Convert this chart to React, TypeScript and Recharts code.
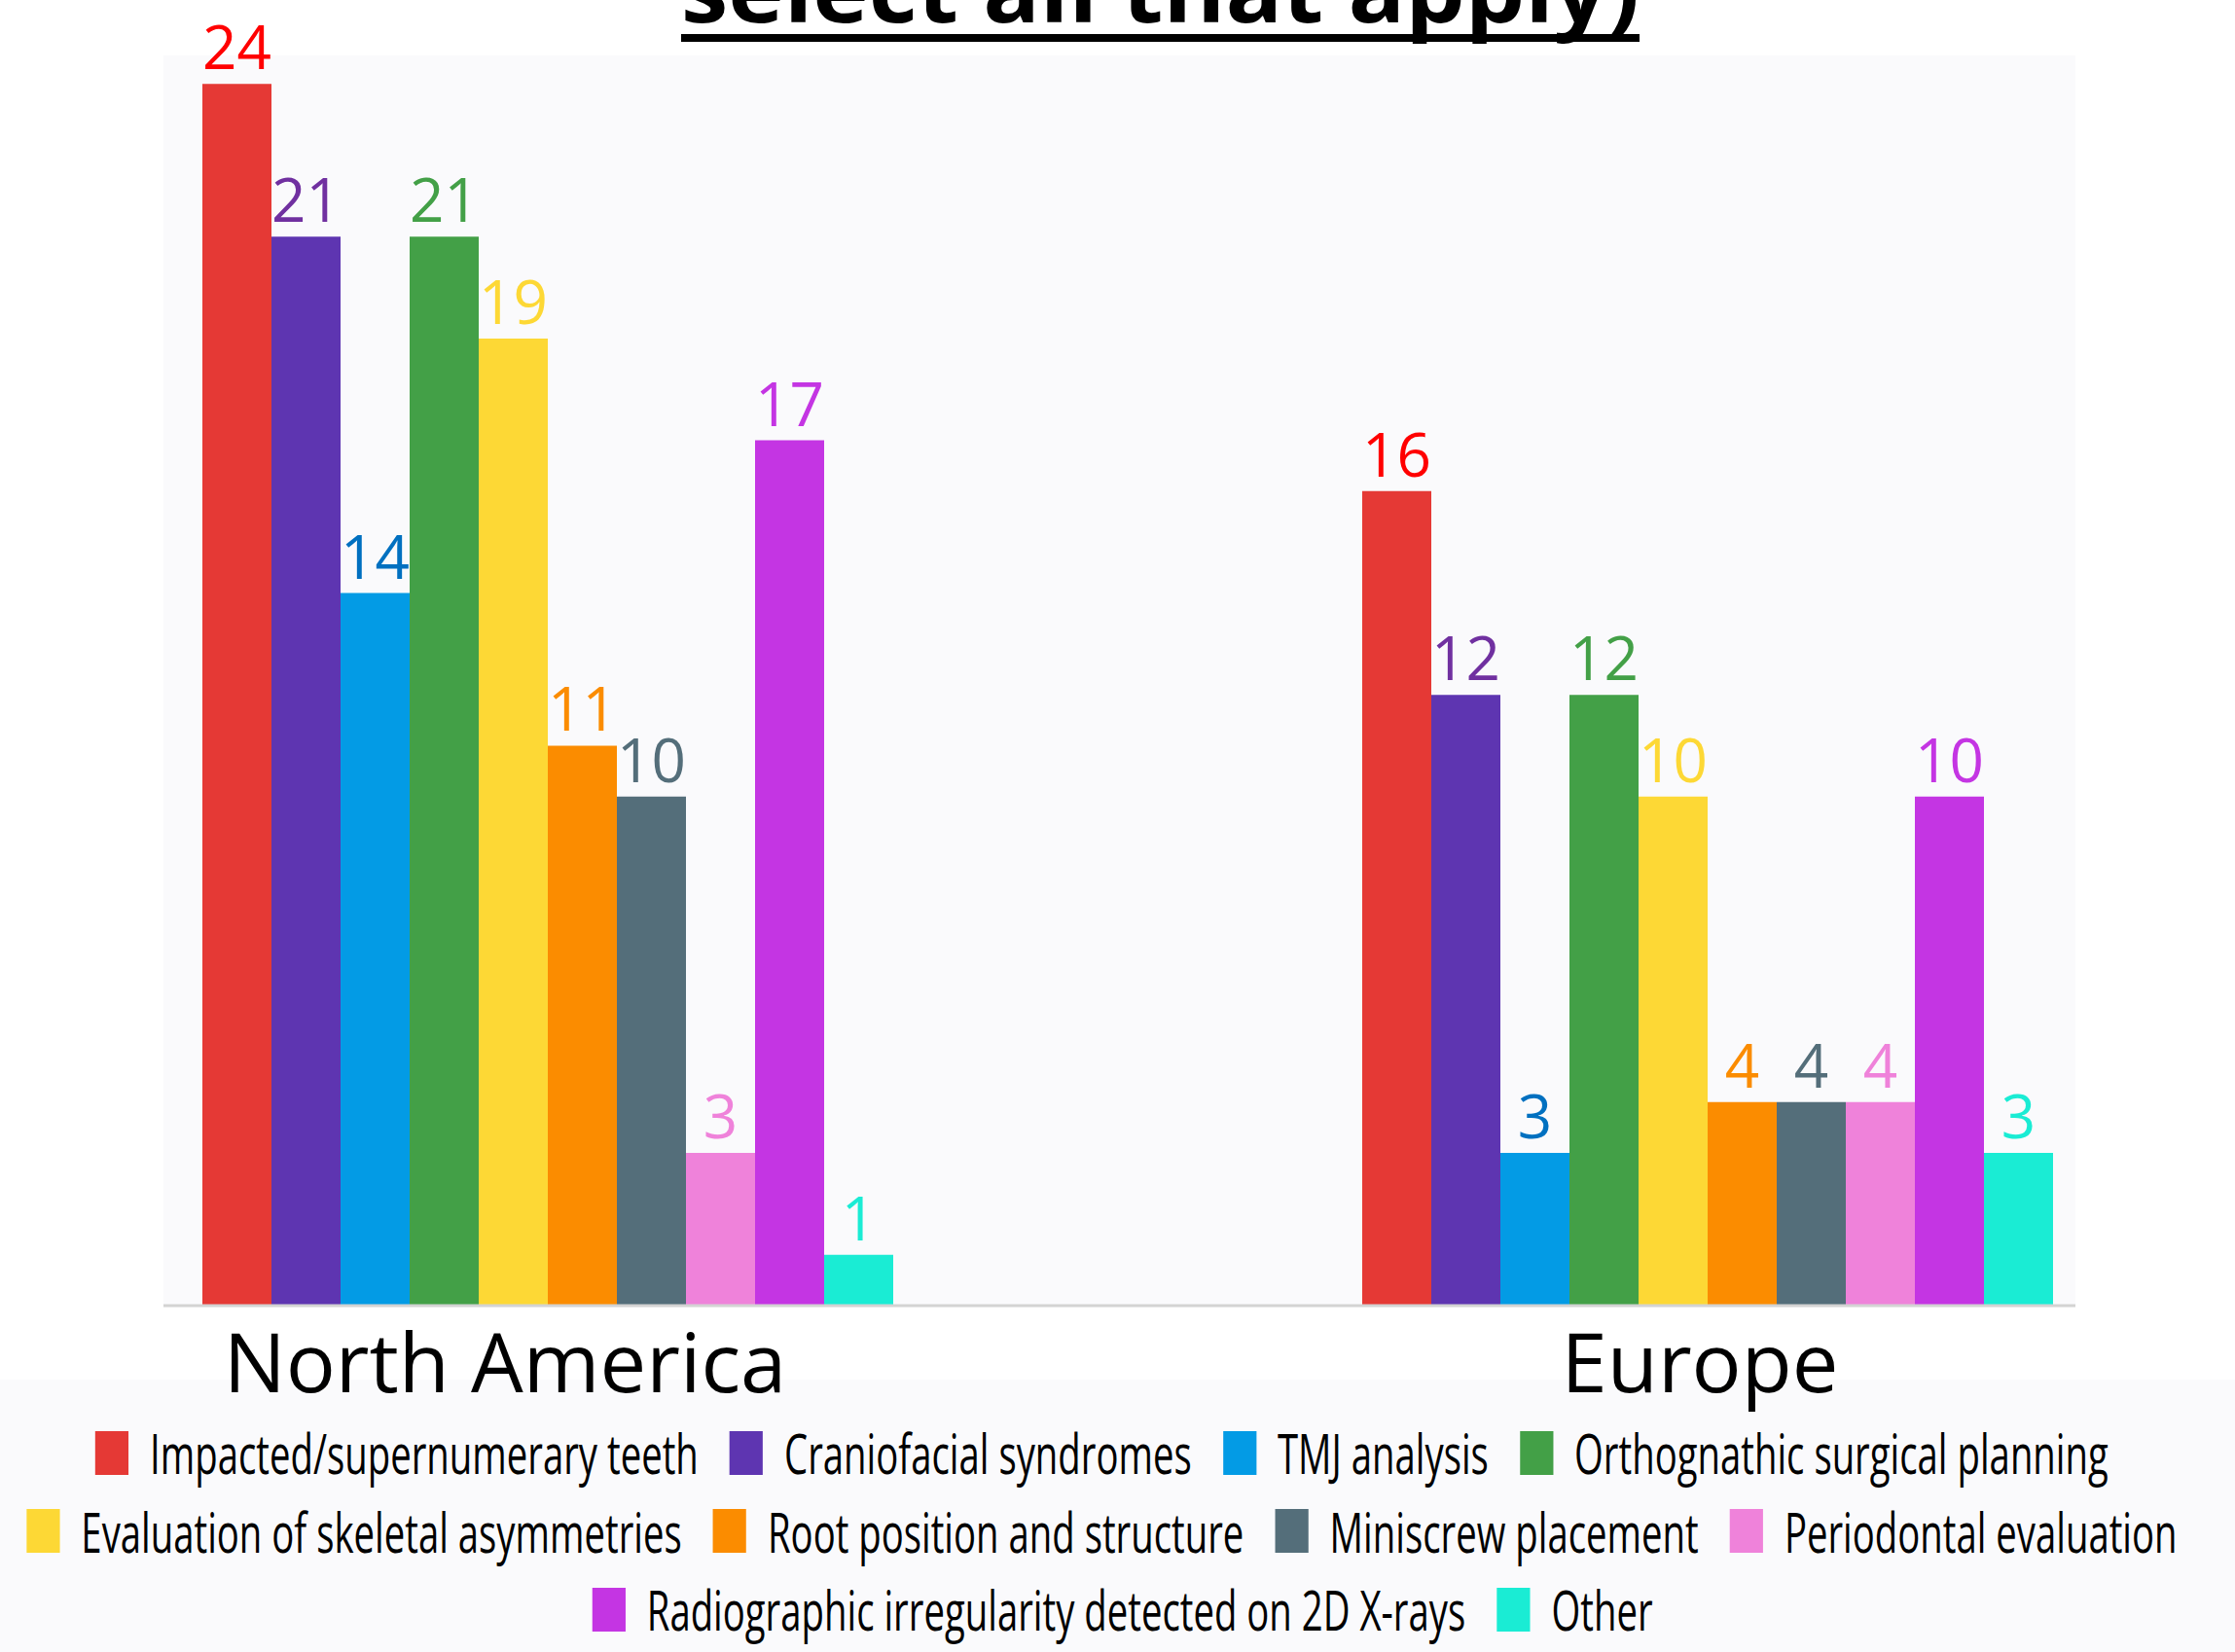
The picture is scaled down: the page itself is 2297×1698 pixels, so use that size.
import React from "react";
import { BarChart, Bar, XAxis, YAxis, CartesianGrid, Legend, LabelList } from "recharts";

const regions = ["North America", "Europe"];

const seriesNames = [
  "Impacted/supernumerary teeth",
  "Craniofacial syndromes",
  "TMJ analysis",
  "Orthognathic surgical planning",
  "Evaluation of skeletal asymmetries",
  "Root position and structure",
  "Miniscrew placement",
  "Periodontal evaluation",
  "Radiographic irregularity detected on 2D X-rays",
  "Other",
];

const northAmerica = [24, 21, 14, 21, 19, 11, 10, 3, 17, 1];
const europe = [16, 12, 3, 12, 10, 4, 4, 4, 10, 3];

const barColors = [
  "#e53935",
  "#5e35b1",
  "#039be5",
  "#43a047",
  "#fdd835",
  "#fb8c00",
  "#546e7a",
  "#ef82da",
  "#c435e3",
  "#1aecd4",
];

const labelColors = [
  "#ff0000",
  "#7030a0",
  "#0070c0",
  "#43a047",
  "#fdd835",
  "#fb8c00",
  "#546e7a",
  "#ef82da",
  "#c435e3",
  "#1aecd4",
];

const regionValues = [northAmerica, europe];

const data = regions.map((region, r) => {
  const row: Record<string, string | number> = { region };
  seriesNames.forEach((_, i) => {
    row[`s${i}`] = regionValues[r][i];
  });
  return row;
});

const FONT = "'Open Sans', 'Noto Sans', sans-serif";
const LEGEND_SCALE = 0.684;

// small nudges so the category names sit where the original has them
const tickNudge = [-44, -8];

const RegionTick = (props: any) => {
  const { x, y, payload, index } = props;
  return (
    <text
      x={x + (tickNudge[index] || 0)}
      y={y + 81}
      textAnchor="middle"
      fontSize={85}
      fontFamily={FONT}
      fill="#000"
    >
      {payload.value}
    </text>
  );
};

const renderLegend = (props: any) => {
  // keep the series order instead of the alphabetical one
  const payload = [...(props.payload || [])].sort(
    (a: any, b: any) => seriesNames.indexOf(a.value) - seriesNames.indexOf(b.value)
  );
  const rows = [payload.slice(0, 4), payload.slice(4, 8), payload.slice(8)];
  return (
    <div
      style={{
        width: 2297 / LEGEND_SCALE,
        transform: `scaleX(${LEGEND_SCALE})`,
        transformOrigin: "0 0",
        fontFamily: FONT,
      }}
    >
      {rows.map((row: any[], ri: number) => (
        <div
          key={ri}
          style={{
            display: "flex",
            justifyContent: "center",
            alignItems: "center",
            height: 80.5,
            paddingLeft: ri === 2 ? 62 : 0,
          }}
        >
          {row.map((item: any) => (
            <div
              key={item.value}
              style={{ display: "flex", alignItems: "center", marginRight: 47 }}
            >
              <span
                style={{
                  display: "inline-block",
                  width: 50,
                  height: 45,
                  background: item.color,
                  marginRight: 32,
                }}
              />
              <span style={{ fontSize: 56, lineHeight: "56px", color: "#000", whiteSpace: "nowrap" }}>
                {item.value}
              </span>
            </div>
          ))}
        </div>
      ))}
    </div>
  );
};

export default function App() {
  return (
    <div
      style={{
        position: "absolute",
        left: 0,
        top: 0,
        width: 2297,
        height: 1698,
        overflow: "hidden",
        background: "#ffffff",
      }}
    >
      <div
        style={{
          position: "absolute",
          left: 0,
          top: 1418,
          width: 2297,
          height: 280,
          background: "#fafafc",
        }}
      />
      <svg
        width={2297}
        height={60}
        style={{ position: "absolute", left: 0, top: 0 }}
      >
        <text
          x={700}
          y={23}
          fontSize={92}
          fontWeight={700}
          fontFamily={FONT}
          fill="#000"
          textLength={985}
          lengthAdjust="spacingAndGlyphs"
        >
          select all that apply)
        </text>
        <rect x={700} y={35} width={985} height={8} fill="#000" />
      </svg>
      <div style={{ position: "absolute", left: 0, top: 0 }}>
        <BarChart
          width={2297}
          height={1698}
          data={data}
          margin={{ top: 57, right: 164, bottom: 296, left: 168 }}
          barSize={71}
          barGap={0}
        >
          <CartesianGrid fill="#fafafc" stroke="none" horizontal={false} vertical={false} />
          <XAxis
            dataKey="region"
            height={60}
            padding={{ left: -201, right: -218 }}
            axisLine={{ stroke: "#d3d3d3", strokeWidth: 3 }}
            tickLine={false}
            interval={0}
            tick={<RegionTick />}
          />
          <YAxis hide domain={[0, 24.56]} />
          <Legend
            verticalAlign="middle"
            content={renderLegend}
            wrapperStyle={{ top: 1453, left: 0, width: 2297 }}
          />
          {seriesNames.map((name, i) => (
            <Bar
              key={name}
              dataKey={`s${i}`}
              name={name}
              fill={barColors[i]}
              isAnimationActive={false}
            >
              <LabelList
                dataKey={`s${i}`}
                position="top"
                offset={15}
                fill={labelColors[i]}
                fontSize={62}
                fontFamily={FONT}
              />
            </Bar>
          ))}
        </BarChart>
      </div>
    </div>
  );
}
